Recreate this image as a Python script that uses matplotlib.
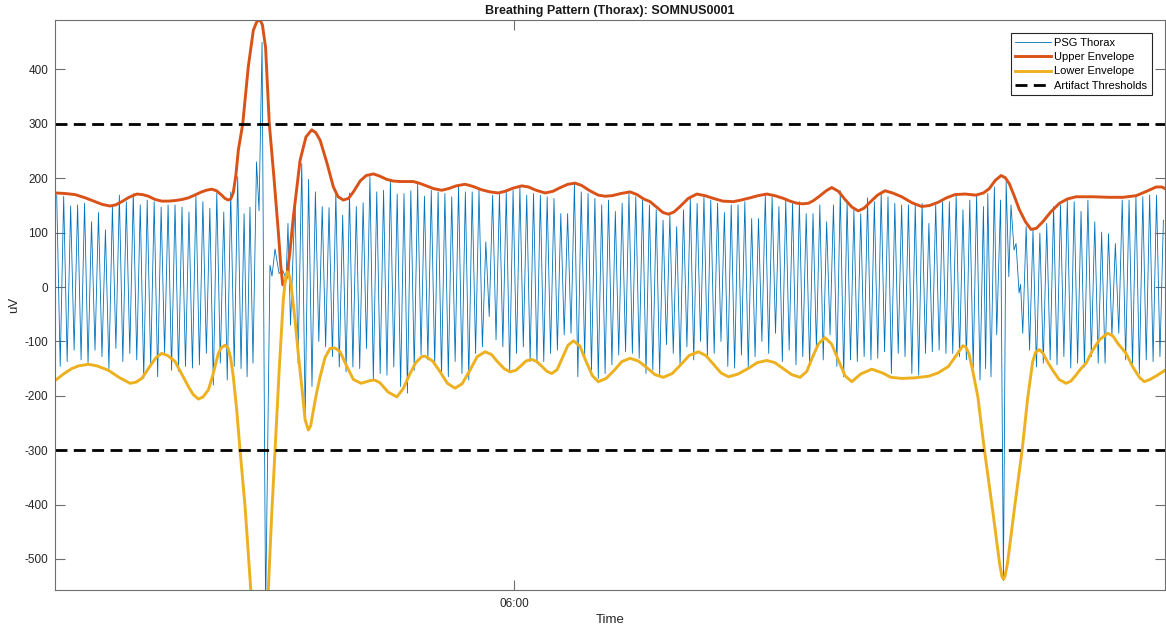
import numpy as np
import pandas as pd
import matplotlib
matplotlib.use("Agg")
import matplotlib.pyplot as plt
import matplotlib.dates as mdates

plt.rcParams['font.family'] = ['Liberation Sans', 'DejaVu Sans']
plt.rcParams['axes.unicode_minus'] = False

# time window (seconds after start)
start = pd.Timestamp("2020-01-01 05:55:27")
duration_s = 660

# PSG thorax, regular breathing: time of first / last peak (s), peak and trough per breath (uV)
a_span = (1.0, 108.6)
a_peaks = [169, 167, 149, 151, 154, 120, 137, 105, 148, 169, 157, 172, 151, 160, 157,
           147, 151, 151, 147, 138, 167, 157, 145, 173, 138, 175, 203]
a_troughs = [-146, -137, -116, -134, -140, -116, -128, -150, -113, -137, -122, -134, -168,
             -146, -165, -122, -153, -155, -146, -149, -143, -122, -180, -140, -171, -146]

# movement artifact (time s, value uV)
b_t = [110.6, 112.4, 114.2, 115.9, 117.7, 119.8, 121.3, 123.1, 125.2, 127.8, 129.0,
       130.8, 133.2, 135.5, 137.4, 138.5, 140.0, 142.7, 144.5]
b_uv = [-150, 135, -165, 147, -140, 230, 140, 450, -600, 40, 20,
        70, 25, 30, 15, 117, -70, 160, -140]

c_span = (146.7, 552.0)
c_peaks = [227, 198, 175, 148, 146, 172, 132, 173, 148, 155, 203, 175, 178, 195, 171, 172, 177, 189, 167,
           178, 175, 172, 166, 187, 175, 175, 178, 83, 169, 172, 175, 178, 184, 169, 172, 169, 166, 163,
           135, 135, 189, 175, 172, 163, 151, 160,
           139, 154, 172, 166, 160, 151, 142, 123, 132, 111, 142, 163, 154, 166, 160, 154, 137, 151, 151,
           157, 126, 126, 169, 166, 148, 160, 154, 157,
           135, 135, 151, 120, 151, 177, 157, 142, 135, 164, 157, 172, 166, 154, 151, 151, 151, 154, 117,
           151, 157, 157, 169, 142, 160, 169, 148]
c_troughs = [-240, -183, -100, -110, -128, -147, -156, -147, -150, -113, -171, -159, -162, -147, -183,
             -195, -153, -125, -134,
             -143, -162, -165, -137, -159, -171, -122, -110, -54, -97, -110, -156, -122, -110, -137,
             -140, -137, -122, -116, -88, -85, -165, -128, -153, -168, -159, -143,
             -125, -119, -122, -131, -159, -153, -162, -106, -122, -146, -110, -134, -100, -128, -122,
             -100, -146, -149, -125, -149, -128, -100, -122, -85, -137, -116, -143, -128,
             -146, -113, -134, -88, -146, -165, -134, -137, -128, -134, -131, -119, -159, -122, -128,
             -159, -162, -122, -119, -116, -122, -122, -128, -134, -149, -171]

# second artifact
d_t = [553.3, 554.6, 556.5, 558.5, 559.9, 562.2, 563.9, 565.5, 567.1, 568.4, 570.2, 571.4,
       573.2, 574.1, 575.4]
d_uv = [-150, 172, -165, 184, -88, 160, -540, 194, 19, 151, 68, 80, -11, 5, -85]

e_span = (577.4, 659.0)
e_peaks = [111, 105, 99, 117, 148, 151, 160, 157, 139, 160, 120, 101, 98, 80, 160, 160, 166,
           166, 169, 169, 123]
e_troughs = [-116, -147, -140, -134, -143, -128, -149, -140, -147, -128, -140, -140, -90, -85,
             -134, -147, -159, -134, -137, -128]

# envelopes, (time s, uV)
upper_pts = [(0, 173), (6, 172), (11.9, 170), (18, 164), (23.8, 157), (28, 152), (32.7, 149),
             (36, 151), (39.7, 157), (44, 165), (48.6, 171), (52, 170), (55.5, 167), (59.5, 161),
             (63.4, 158), (67.5, 158), (71.4, 159), (75.5, 161), (79.3, 164), (83, 169), (87.2, 175),
             (90, 178), (93.2, 180), (96, 177), (99.1, 169), (101, 163), (103, 160), (104.5, 162),
             (106, 174), (107.5, 205), (109, 252), (111.6, 300), (114.9, 405), (117.9, 472),
             (119.7, 486), (120.6, 490), (121.5, 491), (122.4, 488), (123.3, 482), (125.2, 440),
             (127.4, 300), (130.2, 200), (132.8, 100), (134.2, 40), (135.4, 4), (136.5, 8),
             (137.8, 20), (139.5, 60), (141.7, 129), (145.7, 233), (149.2, 276), (152.6, 289),
             (155, 284), (157.6, 270), (161.5, 230), (165.5, 184), (168.3, 166), (171.4, 160),
             (174.5, 163), (177.4, 175), (181.4, 195), (185, 205), (189.3, 208), (193, 204),
             (197.2, 198), (201, 195), (205.1, 194), (209, 194), (213, 194), (216.5, 191),
             (220, 187), (225, 181), (229.9, 178), (234, 181), (238.5, 186), (243.8, 189),
             (248.5, 185), (253.5, 179), (258.5, 175), (263.6, 173), (267.5, 176), (272.5, 182),
             (277.5, 186), (281.5, 184), (286, 178), (291.4, 173), (296, 176), (300.5, 183),
             (305, 189), (309.2, 191), (313, 187), (318, 177), (323, 169), (327, 167), (331.2, 168),
             (336.5, 172), (341.9, 175), (346, 170), (350, 162), (353.8, 157), (358, 146),
             (361.5, 137), (364.7, 134), (368, 138), (371.6, 148), (376.5, 163), (381.6, 171),
             (386.5, 168), (391.4, 163), (397, 158), (403.3, 157), (408, 160), (413.2, 164),
             (418, 168), (423.2, 171), (428, 168), (433.1, 163), (437, 158), (441.2, 154),
             (444.5, 153), (447.9, 154), (451, 159), (454.9, 168), (458.5, 177), (461.8, 183),
             (465.8, 176), (469.7, 161), (473.8, 147), (477.6, 140), (481, 145), (484.6, 156),
             (489, 169), (493.5, 177), (498, 173), (503.4, 166), (509.5, 155), (515.3, 148),
             (520, 150), (525.2, 156), (530, 164), (535.1, 170), (541, 171), (547.6, 169),
             (552, 173), (555.5, 181), (559, 196), (562.5, 205), (565, 201), (567.4, 190),
             (570.5, 166), (573.4, 142), (577, 120), (580.3, 106), (583.5, 108), (587.3, 120),
             (592, 138), (597.2, 154), (602, 162), (607.1, 166), (617, 166), (626.9, 165),
             (635, 165), (642.8, 168), (649, 176), (654.7, 184), (658, 184), (660, 181)]

lower_pts = [(0, -172), (5, -160), (9.9, -150), (14, -145), (19.8, -142), (25, -145), (31.7, -153),
             (38, -166), (44.6, -177), (48, -175), (51.6, -168), (54, -157), (56.5, -145), (60, -130),
             (63.4, -122), (67, -126), (71.4, -137), (75, -158), (79.3, -183), (82, -197),
             (85.2, -206), (88, -202), (91.2, -189), (94, -160), (97.1, -122), (99, -111),
             (101.1, -107), (103, -113), (104.5, -132), (106, -165), (108, -225), (110, -300),
             (113, -404), (116.4, -557), (118.9, -640), (121.6, -675), (124.2, -640), (126.8, -557),
             (128.8, -420), (130.8, -300), (133.4, -146), (135.7, -24), (137, 15), (138.1, 28),
             (139.2, 22), (140.3, 5), (142.7, -61), (144.7, -125), (146.7, -183), (148.7, -244),
             (150.6, -263), (152, -255), (153.4, -230), (155.5, -195), (157.6, -165), (160.5, -130),
             (163.5, -113), (166.5, -112), (169.5, -119), (173.5, -146), (177.4, -170), (182, -177),
             (187.3, -172), (190, -171), (193.2, -176), (198, -193), (203.2, -202), (207, -187),
             (211.1, -159), (214.5, -139), (218, -128), (220, -127), (224.5, -136), (229, -156),
             (233.3, -177), (237.8, -186), (242, -178), (246.7, -153), (251, -128), (255.7, -119),
             (259.5, -124), (263, -137), (267, -150), (270.5, -156), (274, -153), (277, -145),
             (280, -136), (283.4, -133), (286.5, -137), (289.5, -146), (292.5, -155), (295.3, -159),
             (298.5, -152), (301.7, -130), (305, -107), (308.2, -99), (312, -108), (315.5, -135),
             (319.5, -163), (323, -174), (327.7, -168), (332.5, -153), (337, -137), (341.9, -131),
             (346.8, -136), (351.8, -148), (356.7, -161), (361.7, -166), (367, -159), (372, -143),
             (377, -126), (382.5, -119), (387, -126), (391.5, -142), (396, -158), (400.4, -165),
             (406, -160), (412, -150), (417.5, -139), (423.2, -135), (428, -139), (433, -150),
             (438, -161), (443, -166), (447, -155), (450.5, -128), (454, -104), (457.8, -93),
             (461.8, -105), (465.7, -134), (469.7, -163), (473.7, -174), (479, -160), (485.6, -151),
             (492, -158), (497, -166), (503.4, -168), (511, -167), (519.3, -164), (525, -158),
             (531.2, -146), (536, -125), (539.7, -108), (541.5, -110), (543.5, -124), (545.7, -155),
             (548.7, -202), (552.6, -300), (557.6, -413), (561.6, -508), (563, -532), (563.9, -537),
             (564.8, -532), (566.3, -508), (570.2, -413), (575, -300), (578.4, -202), (581.3, -137),
             (583, -120), (585.3, -115), (587.5, -122), (590, -137), (593.2, -153), (597, -170),
             (601.1, -177), (604, -173), (607, -162), (610, -150), (613, -140), (617, -116),
             (621, -97), (625.9, -85), (629, -90), (632, -104), (636.8, -122), (641, -148),
             (645, -167), (647.7, -174), (651, -170), (655, -163), (660, -153)]

thresholds = [300, -300]


def breaths(span, peaks, troughs):
    tp = np.linspace(span[0], span[1], len(peaks))
    t = np.empty(len(peaks) + len(troughs))
    v = np.empty_like(t)
    t[0::2] = tp
    v[0::2] = peaks
    t[1::2] = (tp[:-1] + tp[1:]) / 2
    v[1::2] = troughs
    return t, v


parts = [breaths(a_span, a_peaks, a_troughs),
         (np.array(b_t), np.array(b_uv, dtype=float)),
         breaths(c_span, c_peaks, c_troughs),
         (np.array(d_t), np.array(d_uv, dtype=float)),
         breaths(e_span, e_peaks, e_troughs)]
psg_t = np.concatenate([p[0] for p in parts])
psg_uv = np.concatenate([p[1] for p in parts])

upper_t, upper_uv = zip(*upper_pts)
lower_t, lower_uv = zip(*lower_pts)


def to_time(sec):
    return start + pd.to_timedelta(np.asarray(sec, dtype=float), unit="s")


fig = plt.figure(figsize=(11.66, 6.31), dpi=100)
ax = fig.add_axes([0.0472, 0.0650, 0.9520, 0.9033])

ax.plot(to_time(psg_t), psg_uv, color="#0072BD", lw=0.6, label="PSG Thorax")
ax.plot(to_time(upper_t), upper_uv, color="#D95319", lw=2.1, label="Upper Envelope",
        solid_joinstyle="round")
ax.plot(to_time(lower_t), lower_uv, color="#EDB120", lw=2.1, label="Lower Envelope",
        solid_joinstyle="round")
t_line = to_time([0, duration_s])
for i, th in enumerate(thresholds):
    ax.plot(t_line, [th, th], color="black", lw=2, dashes=(4.3, 2.3),
            label="Artifact Thresholds" if i == 0 else None)

ax.set_xlim(t_line[0], t_line[1])
ax.set_ylim(-557, 491)
ax.set_yticks(np.arange(-500, 401, 100))
ax.set_xticks([pd.Timestamp("2020-01-01 06:00")])
ax.xaxis.set_major_formatter(mdates.DateFormatter("%H:%M"))

for s in ax.spines.values():
    s.set_color("#6e6e6e")
    s.set_linewidth(0.8)
ax.tick_params(direction="in", length=7.5, width=0.8, top=True, right=True,
               labelsize=8.5, colors="#6e6e6e", labelcolor="#262626")
ax.tick_params(axis="y", pad=5)
ax.tick_params(axis="x", pad=6)

ax.set_title("Breathing Pattern (Thorax): SOMNUS0001", fontsize=9, fontweight="bold",
             color="#1a1a1a", pad=4)
ax.set_xlabel("Time", fontsize=9.5, color="#262626", labelpad=3)
ax.set_ylabel("uV", fontsize=9.5, color="#262626", labelpad=3)

leg = ax.legend(loc="upper right", bbox_to_anchor=(0.988, 0.977), fontsize=8,
                frameon=True, fancybox=False, framealpha=1, edgecolor="#262626",
                handlelength=3.2, handletextpad=0.3, labelspacing=0.4, borderpad=0.4,
                borderaxespad=0)
leg.get_frame().set_linewidth(0.8)

fig.savefig("out.png", dpi=100)
